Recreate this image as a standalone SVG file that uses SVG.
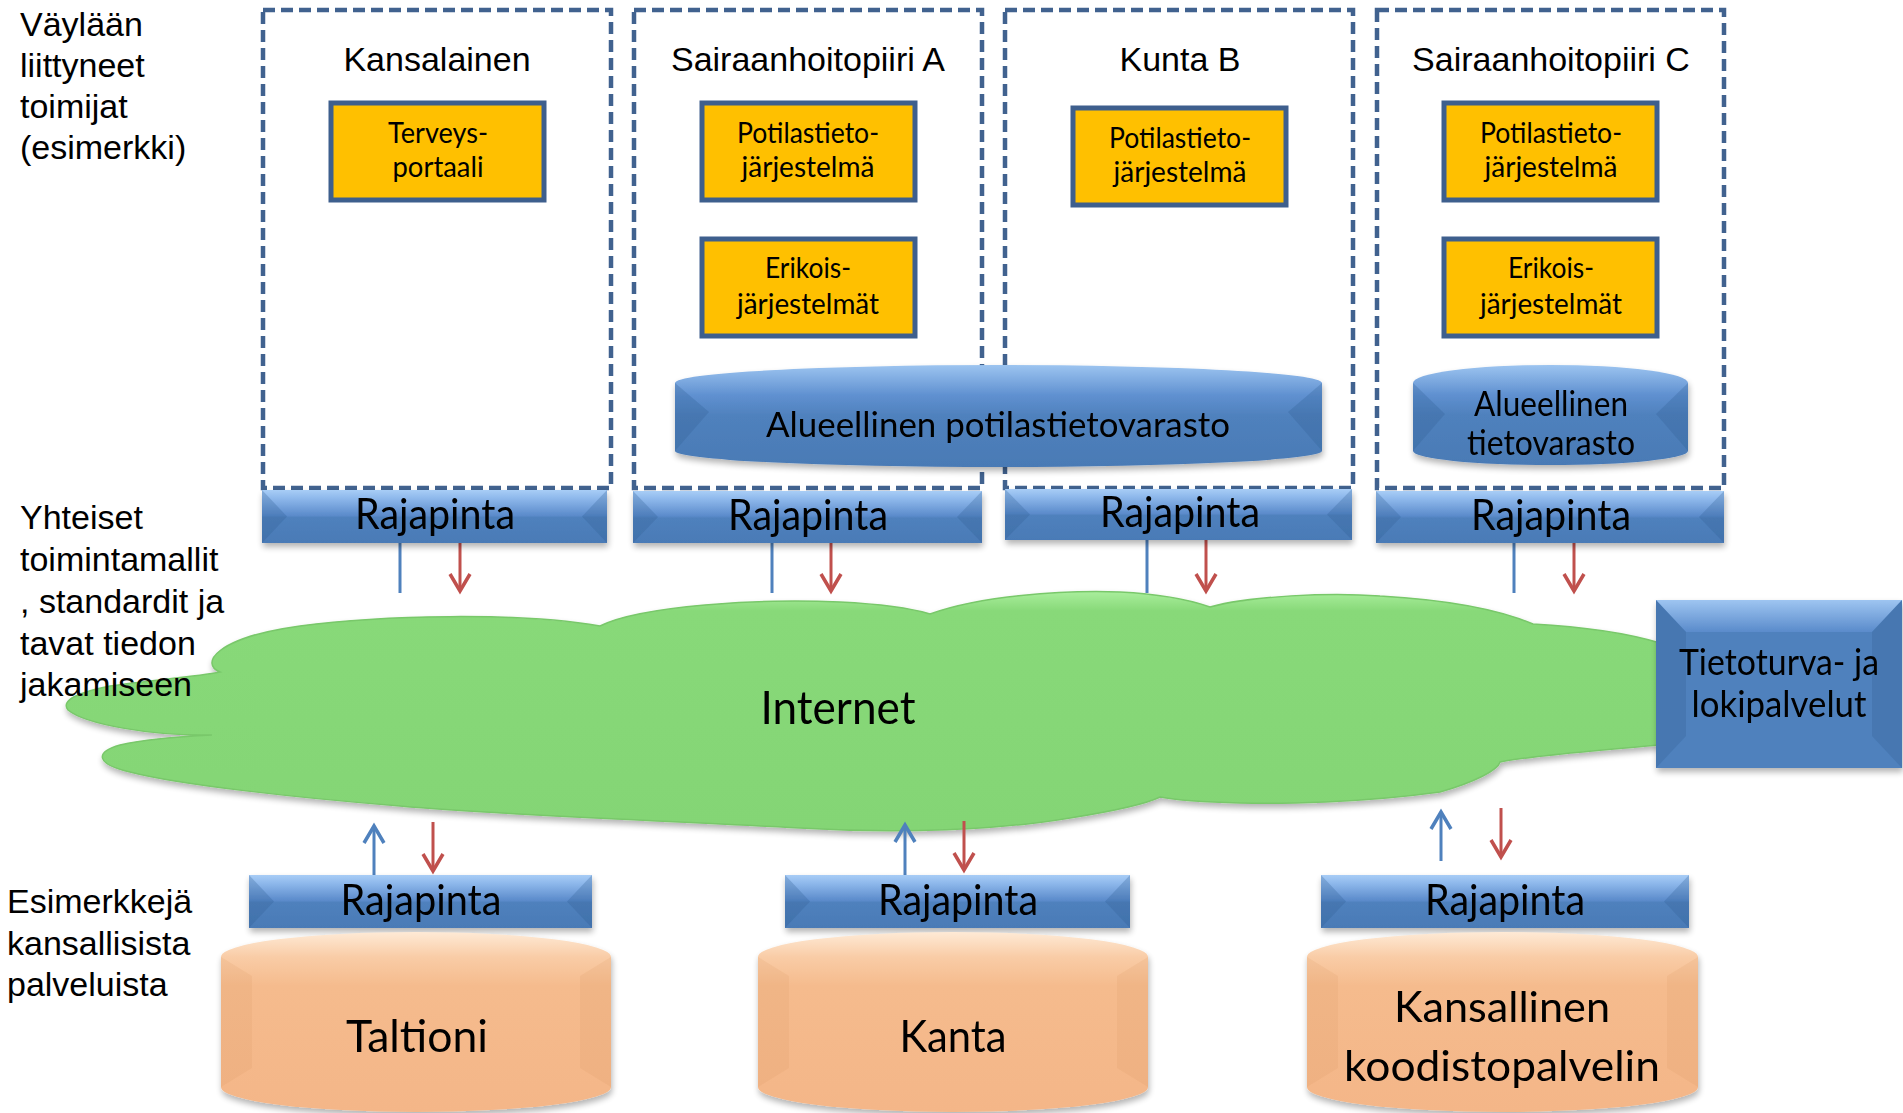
<svg xmlns="http://www.w3.org/2000/svg" width="1903" height="1113" viewBox="0 0 1903 1113">
<style>
.lbl{font-family:"Liberation Sans",Arial,sans-serif;font-size:34px;fill:#000}
.ttl{font-family:"Liberation Sans",Arial,sans-serif;font-size:34px;fill:#000;text-anchor:middle}
.cal{font-family:Lato,"Open Sans",sans-serif;fill:#000;text-anchor:middle}
.ybox{fill:#FFC000;stroke:#3E5F8D;stroke-width:5}
.dash{fill:none;stroke:#41628F;stroke-width:4.5;stroke-dasharray:12 6}
.bar{fill:url(#barG)}
.bev{fill:#2F5C94;opacity:.28}
.store{fill:url(#storeG)}
.cyl{fill:url(#cylG)}
.cbev{fill:#D9915C;opacity:.15}
.lb{stroke:#4F81BD;stroke-width:3;fill:none}
.lr{stroke:#C0504D;stroke-width:3;fill:none}
</style>
<defs>
<linearGradient id="barG" x1="0" y1="0" x2="0" y2="1">
<stop offset="0" stop-color="#A8CDF6"/><stop offset="0.15" stop-color="#8FB9EC"/><stop offset="0.48" stop-color="#5B8BCB"/><stop offset="0.52" stop-color="#4F81BD"/><stop offset="1" stop-color="#4A7AB6"/>
</linearGradient>
<linearGradient id="storeG" x1="0" y1="0" x2="0" y2="1">
<stop offset="0" stop-color="#9CC4F0"/><stop offset="0.3" stop-color="#5F90D0"/><stop offset="0.5" stop-color="#4F81BD"/><stop offset="1" stop-color="#4A7AB5"/>
</linearGradient>
<linearGradient id="cylG" x1="0" y1="0" x2="0" y2="1">
<stop offset="0" stop-color="#FEEAD6"/><stop offset="0.14" stop-color="#F9CCA6"/><stop offset="0.3" stop-color="#F5BB8D"/><stop offset="1" stop-color="#F4B688"/>
</linearGradient>
<linearGradient id="cloudG" x1="0" y1="0" x2="0" y2="1">
<stop offset="0" stop-color="#A9EE9C"/><stop offset="0.08" stop-color="#88D979"/><stop offset="1" stop-color="#84D575"/>
</linearGradient>
<linearGradient id="boxTop" x1="0" y1="0" x2="0" y2="1">
<stop offset="0" stop-color="#9EC5F1"/><stop offset="1" stop-color="#5A8BCB"/>
</linearGradient>
<filter id="sh" x="-5%" y="-10%" width="110%" height="130%">
<feGaussianBlur in="SourceAlpha" stdDeviation="3"/>
<feOffset dx="1" dy="4" result="b"/>
<feComponentTransfer><feFuncA type="linear" slope="0.3"/></feComponentTransfer>
<feMerge><feMergeNode/><feMergeNode in="SourceGraphic"/></feMerge>
</filter>
<marker id="hR" markerUnits="userSpaceOnUse" markerWidth="40" markerHeight="40" orient="auto" overflow="visible">
<path d="M-17,-10 L0,0 L-17,10" fill="none" stroke="#C0504D" stroke-width="3.5"/>
</marker>
<marker id="hB" markerUnits="userSpaceOnUse" markerWidth="40" markerHeight="40" orient="auto" overflow="visible">
<path d="M-17,-10 L0,0 L-17,10" fill="none" stroke="#4F81BD" stroke-width="3.5"/>
</marker>
</defs>
<rect width="1903" height="1113" fill="#fff"/>

<g id="kansalainen">
<rect class="dash" x="263" y="10" width="348" height="478"/>
<text class="ttl" x="437" y="71">Kansalainen</text>
</g>
<g id="sairaanhoitopiiri-a">
<rect class="dash" x="634" y="10" width="348" height="478"/>
<text class="ttl" x="808" y="71">Sairaanhoitopiiri A</text>
</g>
<g id="kunta-b">
<rect class="dash" x="1005" y="10" width="348" height="478"/>
<text class="ttl" x="1180" y="71">Kunta B</text>
</g>
<g id="sairaanhoitopiiri-c">
<rect class="dash" x="1377" y="10" width="347" height="478"/>
<text class="ttl" x="1551" y="71">Sairaanhoitopiiri C</text>
</g>

<g id="terveysportaali">
<rect class="ybox" x="331" y="103" width="213" height="97"/>
<text class="cal" font-size="28" x="438" y="143" textLength="100" lengthAdjust="spacingAndGlyphs">Terveys-</text>
<text class="cal" font-size="28" x="438" y="177" textLength="91" lengthAdjust="spacingAndGlyphs">portaali</text>
</g>
<g id="a-potilastieto">
<rect class="ybox" x="702" y="103" width="213" height="97"/>
<text class="cal" font-size="28" x="808" y="143" textLength="142" lengthAdjust="spacingAndGlyphs">Potilastieto-</text>
<text class="cal" font-size="28" x="808" y="177" textLength="133" lengthAdjust="spacingAndGlyphs">järjestelmä</text>
</g>
<g id="a-erikois">
<rect class="ybox" x="702" y="239" width="213" height="97"/>
<text class="cal" font-size="28" x="808" y="278" textLength="86" lengthAdjust="spacingAndGlyphs">Erikois-</text>
<text class="cal" font-size="28" x="808" y="314" textLength="142" lengthAdjust="spacingAndGlyphs">järjestelmät</text>
</g>
<g id="b-potilastieto">
<rect class="ybox" x="1073" y="108" width="213" height="97"/>
<text class="cal" font-size="28" x="1180" y="148" textLength="142" lengthAdjust="spacingAndGlyphs">Potilastieto-</text>
<text class="cal" font-size="28" x="1180" y="182" textLength="133" lengthAdjust="spacingAndGlyphs">järjestelmä</text>
</g>
<g id="c-potilastieto">
<rect class="ybox" x="1444" y="103" width="213" height="97"/>
<text class="cal" font-size="28" x="1551" y="143" textLength="142" lengthAdjust="spacingAndGlyphs">Potilastieto-</text>
<text class="cal" font-size="28" x="1551" y="177" textLength="133" lengthAdjust="spacingAndGlyphs">järjestelmä</text>
</g>
<g id="c-erikois">
<rect class="ybox" x="1444" y="239" width="213" height="97"/>
<text class="cal" font-size="28" x="1551" y="278" textLength="86" lengthAdjust="spacingAndGlyphs">Erikois-</text>
<text class="cal" font-size="28" x="1551" y="314" textLength="142" lengthAdjust="spacingAndGlyphs">järjestelmät</text>
</g>

<g id="alueellinen-potilastietovarasto" filter="url(#sh)">
<path class="store" d="M675,383 A323.5,18 0 0 1 1322,383 L1322,451 A323.5,16 0 0 1 675,451 Z"/>
<path class="bev" d="M675,383 L709,412 L675,451 Z"/>
<path class="bev" d="M1322,383 L1288,412 L1322,451 Z"/>
<text class="cal" font-size="34" x="998" y="437" textLength="464" lengthAdjust="spacingAndGlyphs">Alueellinen potilastietovarasto</text>
</g>
<g id="alueellinen-tietovarasto" filter="url(#sh)">
<path class="store" d="M1413,383 A137.5,18 0 0 1 1688,383 L1688,451 A137.5,14 0 0 1 1413,451 Z"/>
<path class="bev" d="M1413,383 L1445,414 L1413,451 Z"/>
<path class="bev" d="M1688,383 L1656,414 L1688,451 Z"/>
<text class="cal" font-size="34" x="1551" y="416" textLength="154" lengthAdjust="spacingAndGlyphs">Alueellinen</text>
<text class="cal" font-size="34" x="1551" y="455" textLength="168" lengthAdjust="spacingAndGlyphs">tietovarasto</text>
</g>

<g id="internet" filter="url(#sh)">
<path fill="url(#cloudG)" stroke="#79C86B" stroke-width="1.5" d="M220,672 C200,664 214,638 300,626 C380,615 520,612 600,626 C640,606 760,598 840,602 C880,604 910,608 930,614 C980,596 1060,590 1120,592 C1160,594 1190,600 1210,607 C1250,596 1330,592 1380,596 C1450,600 1500,610 1533,624 C1570,626 1620,631 1660,643 L1660,745 C1600,750 1530,756 1500,762 C1498,770 1475,782 1440,792 C1360,803 1280,804 1240,803 C1200,802 1175,800 1160,797 C1150,802 1120,810 1070,818 C1000,830 900,834 800,828 C650,820 500,815 400,806 C300,798 180,785 130,772 C95,764 95,752 120,745 C150,738 190,736 212,735 C150,736 85,724 68,710 C60,700 80,692 110,686 C150,680 195,677 220,672 Z"/>
<text class="cal" font-size="46" x="838" y="724" textLength="155" lengthAdjust="spacingAndGlyphs">Internet</text>
</g>

<g id="labels">
<text class="lbl" x="20" y="36">Väylään</text>
<text class="lbl" x="20" y="77">liittyneet</text>
<text class="lbl" x="20" y="118">toimijat</text>
<text class="lbl" x="20" y="159">(esimerkki)</text>
<text class="lbl" x="20" y="529">Yhteiset</text>
<text class="lbl" x="20" y="571">toimintamallit</text>
<text class="lbl" x="20" y="613">, standardit ja</text>
<text class="lbl" x="20" y="655">tavat tiedon</text>
<text class="lbl" x="20" y="696">jakamiseen</text>
<text class="lbl" x="7" y="913">Esimerkkejä</text>
<text class="lbl" x="7" y="955">kansallisista</text>
<text class="lbl" x="7" y="996">palveluista</text>
</g>

<g id="connectors">
<line class="lb" x1="400" y1="540" x2="400" y2="593"/>
<line class="lr" x1="460" y1="500" x2="460" y2="591" marker-end="url(#hR)"/>
<line class="lb" x1="772" y1="540" x2="772" y2="593"/>
<line class="lr" x1="831" y1="500" x2="831" y2="591" marker-end="url(#hR)"/>
<line class="lb" x1="1147" y1="540" x2="1147" y2="593"/>
<line class="lr" x1="1206" y1="500" x2="1206" y2="591" marker-end="url(#hR)"/>
<line class="lb" x1="1514" y1="540" x2="1514" y2="593"/>
<line class="lr" x1="1574" y1="500" x2="1574" y2="591" marker-end="url(#hR)"/>
<line class="lb" x1="374" y1="876" x2="374" y2="826" marker-end="url(#hB)"/>
<line class="lr" x1="433" y1="822" x2="433" y2="871" marker-end="url(#hR)"/>
<line class="lb" x1="905" y1="876" x2="905" y2="825" marker-end="url(#hB)"/>
<line class="lr" x1="964" y1="821" x2="964" y2="870" marker-end="url(#hR)"/>
<line class="lb" x1="1441" y1="861" x2="1441" y2="812" marker-end="url(#hB)"/>
<line class="lr" x1="1501" y1="808" x2="1501" y2="857" marker-end="url(#hR)"/>
</g>

<g id="rajapinta-1" filter="url(#sh)">
<rect class="bar" x="262" y="490" width="345" height="53"/>
<path class="bev" d="M262,490 L287,516.5 L262,543 Z M607,490 L582,516.5 L607,543 Z"/>
<text class="cal" font-size="42" x="435" y="529" textLength="160" lengthAdjust="spacingAndGlyphs">Rajapinta</text>
</g>
<g id="rajapinta-2" filter="url(#sh)">
<rect class="bar" x="633" y="491" width="349" height="52"/>
<path class="bev" d="M633,491 L658,517 L633,543 Z M982,491 L957,517 L982,543 Z"/>
<text class="cal" font-size="42" x="808" y="530" textLength="160" lengthAdjust="spacingAndGlyphs">Rajapinta</text>
</g>
<g id="rajapinta-3" filter="url(#sh)">
<rect class="bar" x="1005" y="489" width="347" height="51"/>
<path class="bev" d="M1005,489 L1030,514.5 L1005,540 Z M1352,489 L1327,514.5 L1352,540 Z"/>
<text class="cal" font-size="42" x="1180" y="527" textLength="160" lengthAdjust="spacingAndGlyphs">Rajapinta</text>
</g>
<g id="rajapinta-4" filter="url(#sh)">
<rect class="bar" x="1376" y="491" width="348" height="52"/>
<path class="bev" d="M1376,491 L1401,517 L1376,543 Z M1724,491 L1699,517 L1724,543 Z"/>
<text class="cal" font-size="42" x="1551" y="530" textLength="160" lengthAdjust="spacingAndGlyphs">Rajapinta</text>
</g>

<g id="tietoturva" filter="url(#sh)">
<rect x="1656" y="600" width="246" height="168" fill="#4F81BD"/>
<path d="M1656,600 L1902,600 L1872,632 L1686,632 Z" fill="url(#boxTop)"/>
<path class="bev" d="M1656,600 L1686,632 L1686,736 L1656,768 Z M1902,600 L1872,632 L1872,736 L1902,768 Z"/>
<text class="cal" font-size="36" x="1779" y="675" textLength="200" lengthAdjust="spacingAndGlyphs">Tietoturva- ja</text>
<text class="cal" font-size="36" x="1779" y="717" textLength="175" lengthAdjust="spacingAndGlyphs">lokipalvelut</text>
</g>

<g id="rajapinta-taltioni" filter="url(#sh)">
<rect class="bar" x="249" y="875" width="343" height="53"/>
<path class="bev" d="M249,875 L274,901.5 L249,928 Z M592,875 L567,901.5 L592,928 Z"/>
<text class="cal" font-size="42" x="421" y="915" textLength="161" lengthAdjust="spacingAndGlyphs">Rajapinta</text>
</g>
<g id="rajapinta-kanta" filter="url(#sh)">
<rect class="bar" x="785" y="875" width="345" height="53"/>
<path class="bev" d="M785,875 L810,901.5 L785,928 Z M1130,875 L1105,901.5 L1130,928 Z"/>
<text class="cal" font-size="42" x="958" y="915" textLength="160" lengthAdjust="spacingAndGlyphs">Rajapinta</text>
</g>
<g id="rajapinta-koodisto" filter="url(#sh)">
<rect class="bar" x="1321" y="875" width="368" height="53"/>
<path class="bev" d="M1321,875 L1346,901.5 L1321,928 Z M1689,875 L1664,901.5 L1689,928 Z"/>
<text class="cal" font-size="42" x="1505" y="915" textLength="160" lengthAdjust="spacingAndGlyphs">Rajapinta</text>
</g>

<g id="taltioni" filter="url(#sh)">
<path class="cyl" d="M221,957 A195,25 0 0 1 611,957 L611,1087 A195,25 0 0 1 221,1087 Z"/>
<path class="cbev" d="M221,957 L252,976 L252,1068 L221,1087 Z M611,957 L580,976 L580,1068 L611,1087 Z"/>
<text class="cal" font-size="45" x="417" y="1052" textLength="142" lengthAdjust="spacingAndGlyphs">Taltioni</text>
</g>
<g id="kanta" filter="url(#sh)">
<path class="cyl" d="M758,957 A195,25 0 0 1 1148,957 L1148,1087 A195,25 0 0 1 758,1087 Z"/>
<path class="cbev" d="M758,957 L789,976 L789,1068 L758,1087 Z M1148,957 L1117,976 L1117,1068 L1148,1087 Z"/>
<text class="cal" font-size="45" x="953" y="1052" textLength="107" lengthAdjust="spacingAndGlyphs">Kanta</text>
</g>
<g id="koodistopalvelin" filter="url(#sh)">
<path class="cyl" d="M1307,957 A195.5,25 0 0 1 1698,957 L1698,1087 A195.5,25 0 0 1 1307,1087 Z"/>
<path class="cbev" d="M1307,957 L1338,976 L1338,1068 L1307,1087 Z M1698,957 L1667,976 L1667,1068 L1698,1087 Z"/>
<text class="cal" font-size="43" x="1502" y="1022" textLength="216" lengthAdjust="spacingAndGlyphs">Kansallinen</text>
<text class="cal" font-size="43" x="1502" y="1081" textLength="316" lengthAdjust="spacingAndGlyphs">koodistopalvelin</text>
</g>
</svg>
